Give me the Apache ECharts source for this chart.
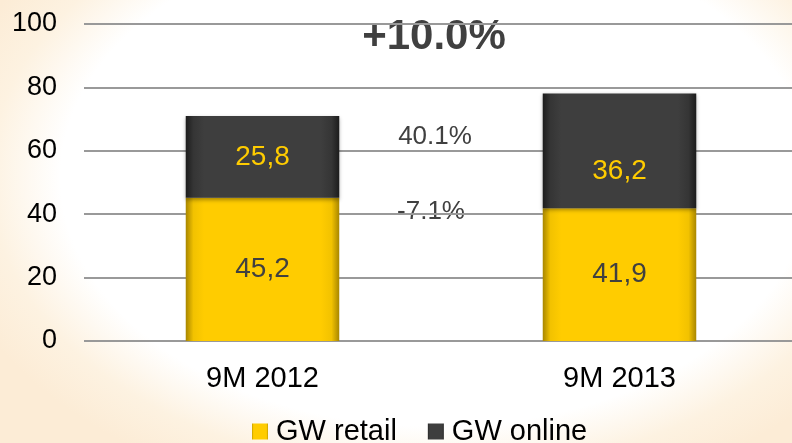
<!DOCTYPE html>
<html>
<head>
<meta charset="utf-8">
<script src="https://cdn.jsdelivr.net/npm/echarts@6/dist/echarts.min.js"></script>
<style>
  html, body { margin: 0; padding: 0; }
  body {
    width: 792px; height: 443px; overflow: hidden;
    background: radial-gradient(ellipse 64% 76% at 55% 40%, #ffffff 0%, #ffffff 74%, #fdf2e1 88%, #fcecd6 100%);
  }
  #chart { width: 800px; height: 443px; }
</style>
</head>
<body>
<div id="chart"></div>
<script>
const categories = ['9M 2012', '9M 2013'];
const retailValues = [45.2, 41.9];
const onlineValues = [25.8, 36.2];
const seriesNames = ['GW retail', 'GW online'];
const yTicks = [0, 20, 40, 60, 80, 100];
const totalGrowth = '+10.0%';
const onlineGrowth = '40.1%';
const retailGrowth = '-7.1%';

const fmt = v => v.toFixed(1).replace('.', ',');
const font = 'Liberation Sans, Arial, sans-serif';

const yellowGrad = {
  type: 'linear', x: 0, y: 0, x2: 1, y2: 0,
  colorStops: [
    { offset: 0, color: '#a88600' },
    { offset: 0.05, color: '#f2c200' },
    { offset: 0.12, color: '#ffcc00' },
    { offset: 0.88, color: '#ffcc00' },
    { offset: 0.95, color: '#f2c200' },
    { offset: 1, color: '#a88600' }
  ]
};
const darkGrad = {
  type: 'linear', x: 0, y: 0, x2: 1, y2: 0,
  colorStops: [
    { offset: 0, color: '#1c1c1c' },
    { offset: 0.05, color: '#353535' },
    { offset: 0.12, color: '#3e3e3e' },
    { offset: 0.88, color: '#3e3e3e' },
    { offset: 0.95, color: '#353535' },
    { offset: 1, color: '#1c1c1c' }
  ]
};

const chart = echarts.init(document.getElementById('chart'));
chart.setOption({
  animation: false,
  grid: { left: 84, right: 2, top: 24, bottom: 102, containLabel: false },
  xAxis: {
    type: 'category',
    data: categories,
    axisLine: { show: false },
    axisTick: { show: false },
    axisLabel: { color: '#000', fontFamily: font, fontSize: 29, margin: 23 }
  },
  yAxis: {
    type: 'value',
    min: yTicks[0], max: yTicks[yTicks.length - 1], interval: 20,
    axisLine: { show: false },
    axisTick: { show: false },
    axisLabel: { color: '#000', fontFamily: font, fontSize: 27, margin: 27 },
    splitLine: { lineStyle: { color: '#999999', width: 2 } }
  },
  legend: {
    data: seriesNames,
    left: 252, top: 417, padding: 0,
    icon: 'rect', itemWidth: 16, itemHeight: 16, itemGap: 31,
    textStyle: { color: '#000', fontFamily: font, fontSize: 29, padding: [0, 0, 0, 3] }
  },
  series: [
    {
      name: seriesNames[0], type: 'bar', stack: 'total', barWidth: '43%',
      data: retailValues,
      itemStyle: { color: yellowGrad },
      label: {
        show: true, position: 'inside', color: '#404040', fontFamily: font, fontSize: 28,
        formatter: p => fmt(p.value)
      }
    },
    {
      name: seriesNames[1], type: 'bar', stack: 'total', barWidth: '43%',
      data: onlineValues.map((v, i) => i === 1 ? { value: v, label: { offset: [0, 20] } } : v),
      itemStyle: { color: darkGrad, shadowColor: 'rgba(0,0,0,0.35)', shadowBlur: 4, shadowOffsetY: 2 },
      label: {
        show: true, position: 'inside', color: '#ffcc00', fontFamily: font, fontSize: 28,
        formatter: p => fmt(p.value)
      }
    }
  ],
  graphic: [
    { type: 'text', x: 434, y: 37, style: { text: totalGrowth, fill: '#404040', font: 'bold 42px ' + font, textAlign: 'center', textVerticalAlign: 'middle' } },
    { type: 'text', x: 435, y: 137, style: { text: onlineGrowth, fill: '#404040', font: '26px ' + font, textAlign: 'center', textVerticalAlign: 'middle' } },
    { type: 'text', x: 431, y: 212, style: { text: retailGrowth, fill: '#404040', font: '26px ' + font, textAlign: 'center', textVerticalAlign: 'middle' } }
  ]
});
</script>
</body>
</html>
